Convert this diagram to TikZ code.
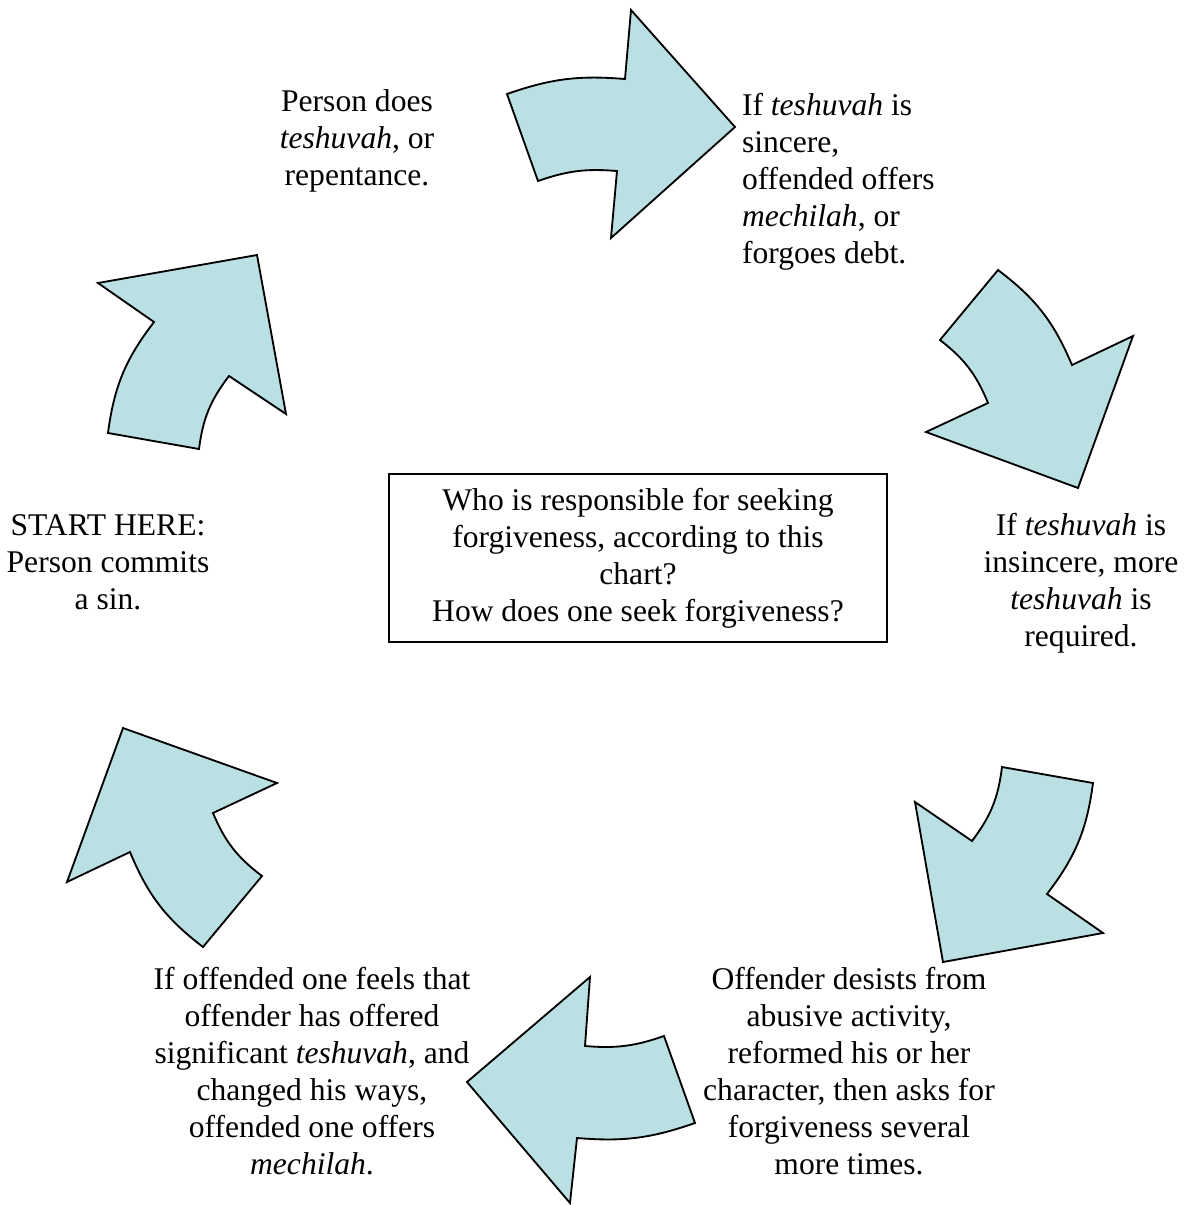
\documentclass[tikz,border=0pt]{standalone}
\usepackage{fontspec}
\setmainfont{Liberation Serif}
\definecolor{arrowfill}{RGB}{186,224,227}
\begin{document}
\begin{tikzpicture}[x=0.38pt,y=-0.38pt,inner sep=0pt,outer sep=0pt,
steptext/.style={align=center,font=\fontsize{12}{14.06}\selectfont},
cyclearrow/.style={draw,fill=arrowfill,line width=0.7pt}]

\useasboundingbox (0,0) rectangle (1191,1205);

% the six curved arrows, clockwise from the top
\draw[cyclearrow] (507,94) to[bend left=12] (625,79) -- (631,10) -- (735,127) -- (611,238) -- (617,171) to[bend right=12] (538,181) -- cycle;
\draw[cyclearrow] (998,270) to[bend left=15] (1072,365) -- (1133,336) -- (1078,488) -- (926,432) -- (988,403) to[bend right=15] (940,340) -- cycle;
\draw[cyclearrow] (1093,783) to[bend left=15] (1047,894) -- (1103,933) -- (943,962) -- (915,802) -- (972,841) to[bend right=15] (1002,767) -- cycle;
\draw[cyclearrow] (695,1123) to[bend left=12] (577,1138) -- (570,1203) -- (467,1082) -- (590,977) -- (585,1046) to[bend right=12] (664,1036) -- cycle;
\draw[cyclearrow] (130,852) to[bend right=15] (203,947) -- (262,876) to[bend left=15] (213,813) -- (277,783) -- (123,728) -- (67,882) -- cycle;
\draw[cyclearrow] (108,433) to[bend left=15] (154,322) -- (98,283) -- (257,255) -- (286,414) -- (229,376) to[bend right=15] (199,449) -- cycle;

% the steps
\node[steptext] (start) at (108,562) {START HERE:\\Person commits\\a sin.};
\node[steptext] (repent) at (357,141) {Person does\\\textit{teshuvah}, or\\repentance.};
\node[steptext,align=left,anchor=west] (sincere) at (742,182) {If \textit{teshuvah} is\\sincere,\\offended offers\\\textit{mechilah}, or\\forgoes debt.};
\node[steptext] (insincere) at (1081,583) {If \textit{teshuvah} is\\insincere, more\\\textit{teshuvah} is\\required.};
\node[steptext] (desist) at (849,1071) {Offender desists from\\abusive activity,\\reformed his or her\\character, then asks for\\forgiveness several\\more times.};
\node[steptext] (forgive) at (312,1071) {If offended one feels that\\offender has offered\\significant \textit{teshuvah}, and\\changed his ways,\\offended one offers\\\textit{mechilah}.};

% question in the middle
\node[steptext,draw,line width=0.7pt,minimum width=189.2pt,minimum height=63.8pt] (question) at (638,558) {Who is responsible for seeking\\forgiveness, according to this\\chart?\\How does one seek forgiveness?};

\end{tikzpicture}
\end{document}
